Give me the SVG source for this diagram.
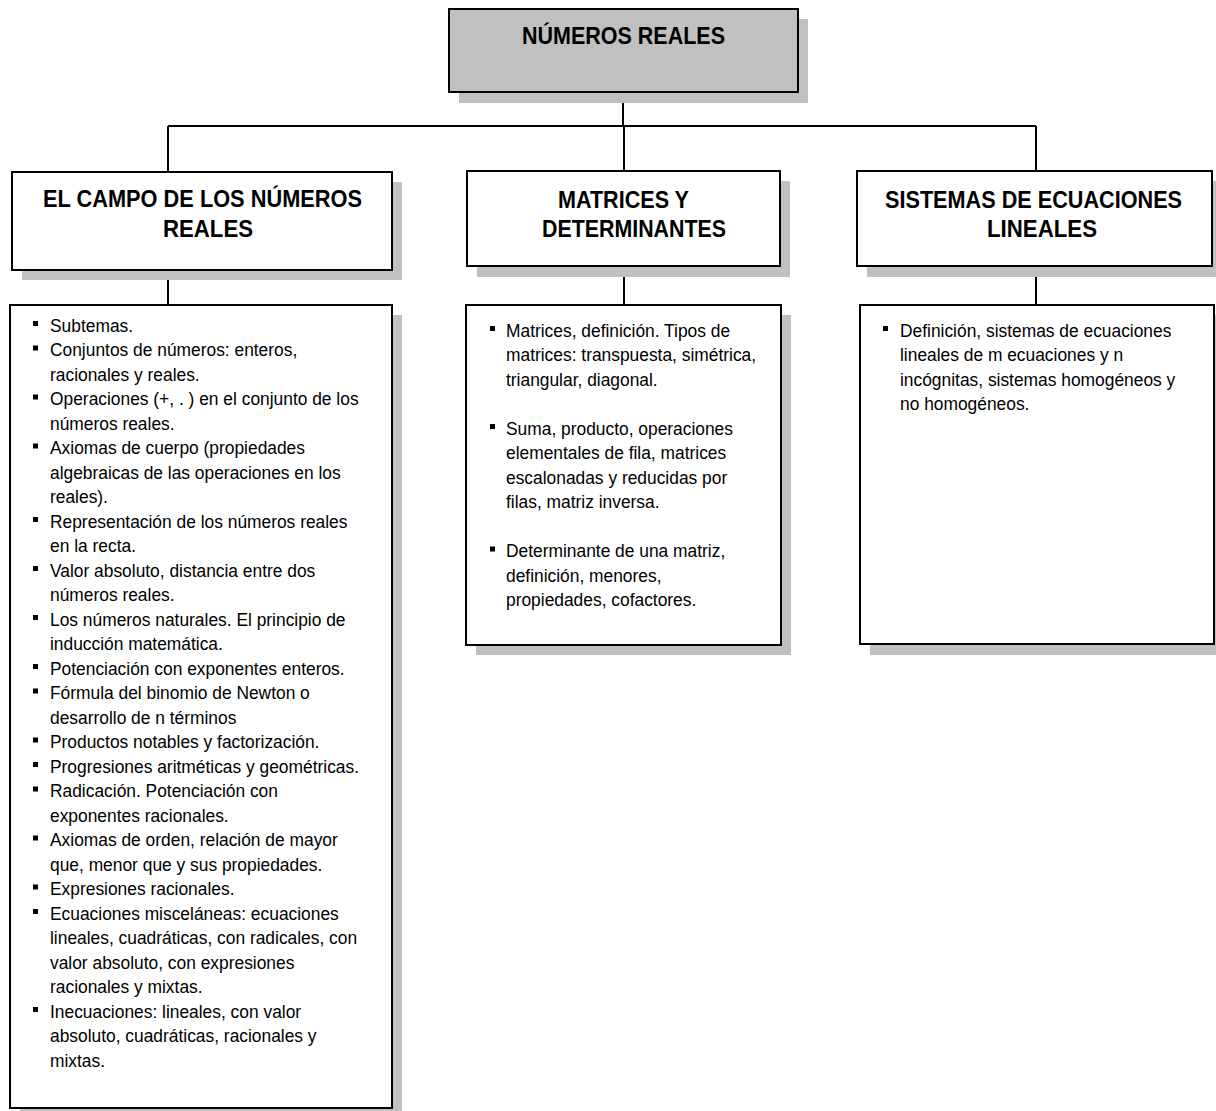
<svg xmlns="http://www.w3.org/2000/svg" width="1216" height="1111" viewBox="0 0 1216 1111">
<style>
.box{fill:#fff;stroke:#000;stroke-width:2}
.top{fill:#c0c0c0;stroke:#000;stroke-width:2}
.sh{fill:#c0c0c0;stroke:none}
.h{font-family:"Liberation Sans",Arial,sans-serif;font-weight:bold;font-size:23px;fill:#000}
.t{font-family:"Liberation Sans",Arial,sans-serif;font-size:18.5px;fill:#000}
.b{fill:#000}
.c{stroke:#000;stroke-width:2;fill:none}
</style>
<rect width="1216" height="1111" fill="#fff"/>
<g id="connectors">
<path class="c" d="M623 92V126M168 126H1036M168 126V172M624 126V171M1036 126V171M168 270V305M624 266V305M1036 266V305"/>
</g>
<g id="root">
<rect class="sh" x="459" y="19" width="349" height="84"/>
<rect class="top" x="449" y="9" width="349" height="83"/>
<text class="h" x="522" y="44" textLength="203" lengthAdjust="spacingAndGlyphs">NÚMEROS REALES</text>
</g>
<g id="campo">
<rect class="sh" x="22" y="182" width="380" height="98"/>
<rect class="box" x="12" y="172" width="380" height="98"/>
<text class="h" x="43" y="207" textLength="319" lengthAdjust="spacingAndGlyphs">EL CAMPO DE LOS NÚMEROS</text>
<text class="h" x="163" y="237" textLength="90" lengthAdjust="spacingAndGlyphs">REALES</text>
</g>
<g id="matrices">
<rect class="sh" x="477" y="181" width="313" height="96"/>
<rect class="box" x="467" y="171" width="313" height="95"/>
<text class="h" x="558" y="208" textLength="131" lengthAdjust="spacingAndGlyphs">MATRICES Y</text>
<text class="h" x="542" y="237" textLength="184" lengthAdjust="spacingAndGlyphs">DETERMINANTES</text>
</g>
<g id="sistemas">
<rect class="sh" x="867" y="181" width="355" height="96"/>
<rect class="box" x="857" y="171" width="355" height="95"/>
<text class="h" x="885" y="208" textLength="297" lengthAdjust="spacingAndGlyphs">SISTEMAS DE ECUACIONES</text>
<text class="h" x="987" y="237" textLength="110" lengthAdjust="spacingAndGlyphs">LINEALES</text>
</g>
<g id="campo-temas">
<rect class="sh" x="20" y="315" width="382" height="810"/>
<rect class="box" x="10" y="305" width="382" height="803"/>
<g class="b">
<rect x="33" y="321" width="5" height="5"/>
<rect x="33" y="345.5" width="5" height="5"/>
<rect x="33" y="394.5" width="5" height="5"/>
<rect x="33" y="443.5" width="5" height="5"/>
<rect x="33" y="517" width="5" height="5"/>
<rect x="33" y="566" width="5" height="5"/>
<rect x="33" y="615" width="5" height="5"/>
<rect x="33" y="664" width="5" height="5"/>
<rect x="33" y="688.5" width="5" height="5"/>
<rect x="33" y="737.5" width="5" height="5"/>
<rect x="33" y="762" width="5" height="5"/>
<rect x="33" y="786.5" width="5" height="5"/>
<rect x="33" y="835.5" width="5" height="5"/>
<rect x="33" y="884.5" width="5" height="5"/>
<rect x="33" y="909" width="5" height="5"/>
<rect x="33" y="1007" width="5" height="5"/>
</g>
<g transform="translate(50,0) scale(0.94,1)">
<text class="t" x="0" y="332">Subtemas.</text>
<text class="t" x="0" y="356.5">Conjuntos de números: enteros,</text>
<text class="t" x="0" y="381">racionales y reales.</text>
<text class="t" x="0" y="405.5">Operaciones (+, . ) en el conjunto de los</text>
<text class="t" x="0" y="430">números reales.</text>
<text class="t" x="0" y="454.5">Axiomas de cuerpo (propiedades</text>
<text class="t" x="0" y="479">algebraicas de las operaciones en los</text>
<text class="t" x="0" y="503.5">reales).</text>
<text class="t" x="0" y="528">Representación de los números reales</text>
<text class="t" x="0" y="552.5">en la recta.</text>
<text class="t" x="0" y="577">Valor absoluto, distancia entre dos</text>
<text class="t" x="0" y="601.5">números reales.</text>
<text class="t" x="0" y="626">Los números naturales. El principio de</text>
<text class="t" x="0" y="650.5">inducción matemática.</text>
<text class="t" x="0" y="675">Potenciación con exponentes enteros.</text>
<text class="t" x="0" y="699.5">Fórmula del binomio de Newton o</text>
<text class="t" x="0" y="724">desarrollo de n términos</text>
<text class="t" x="0" y="748.5">Productos notables y factorización.</text>
<text class="t" x="0" y="773">Progresiones aritméticas y geométricas.</text>
<text class="t" x="0" y="797.5">Radicación. Potenciación con</text>
<text class="t" x="0" y="822">exponentes racionales.</text>
<text class="t" x="0" y="846.5">Axiomas de orden, relación de mayor</text>
<text class="t" x="0" y="871">que, menor que y sus propiedades.</text>
<text class="t" x="0" y="895.5">Expresiones racionales.</text>
<text class="t" x="0" y="920">Ecuaciones misceláneas: ecuaciones</text>
<text class="t" x="0" y="944.5">lineales, cuadráticas, con radicales, con</text>
<text class="t" x="0" y="969">valor absoluto, con expresiones</text>
<text class="t" x="0" y="993.5">racionales y mixtas.</text>
<text class="t" x="0" y="1018">Inecuaciones: lineales, con valor</text>
<text class="t" x="0" y="1042.5">absoluto, cuadráticas, racionales y</text>
<text class="t" x="0" y="1067">mixtas.</text>
</g>
</g>
<g id="matrices-temas">
<rect class="sh" x="476" y="315" width="315" height="340"/>
<rect class="box" x="466" y="305" width="315" height="340"/>
<g class="b">
<rect x="490" y="326" width="5" height="5"/>
<rect x="490" y="424" width="5" height="5"/>
<rect x="490" y="546.5" width="5" height="5"/>
</g>
<g transform="translate(506,0) scale(0.94,1)">
<text class="t" x="0" y="337">Matrices, definición. Tipos de</text>
<text class="t" x="0" y="361.5">matrices: transpuesta, simétrica,</text>
<text class="t" x="0" y="386">triangular, diagonal.</text>
<text class="t" x="0" y="435">Suma, producto, operaciones</text>
<text class="t" x="0" y="459.5">elementales de fila, matrices</text>
<text class="t" x="0" y="484">escalonadas y reducidas por</text>
<text class="t" x="0" y="508.5">filas, matriz inversa.</text>
<text class="t" x="0" y="557.5">Determinante de una matriz,</text>
<text class="t" x="0" y="582">definición, menores,</text>
<text class="t" x="0" y="606.5">propiedades, cofactores.</text>
</g>
</g>
<g id="sistemas-temas">
<rect class="sh" x="870" y="315" width="354" height="340"/>
<rect class="box" x="860" y="305" width="354" height="339"/>
<rect class="b" x="883" y="326" width="5" height="5"/>
<g transform="translate(900,0) scale(0.94,1)">
<text class="t" x="0" y="337">Definición, sistemas de ecuaciones</text>
<text class="t" x="0" y="361.5">lineales de m ecuaciones y n</text>
<text class="t" x="0" y="386">incógnitas, sistemas homogéneos y</text>
<text class="t" x="0" y="410.5">no homogéneos.</text>
</g>
</g>
</svg>
